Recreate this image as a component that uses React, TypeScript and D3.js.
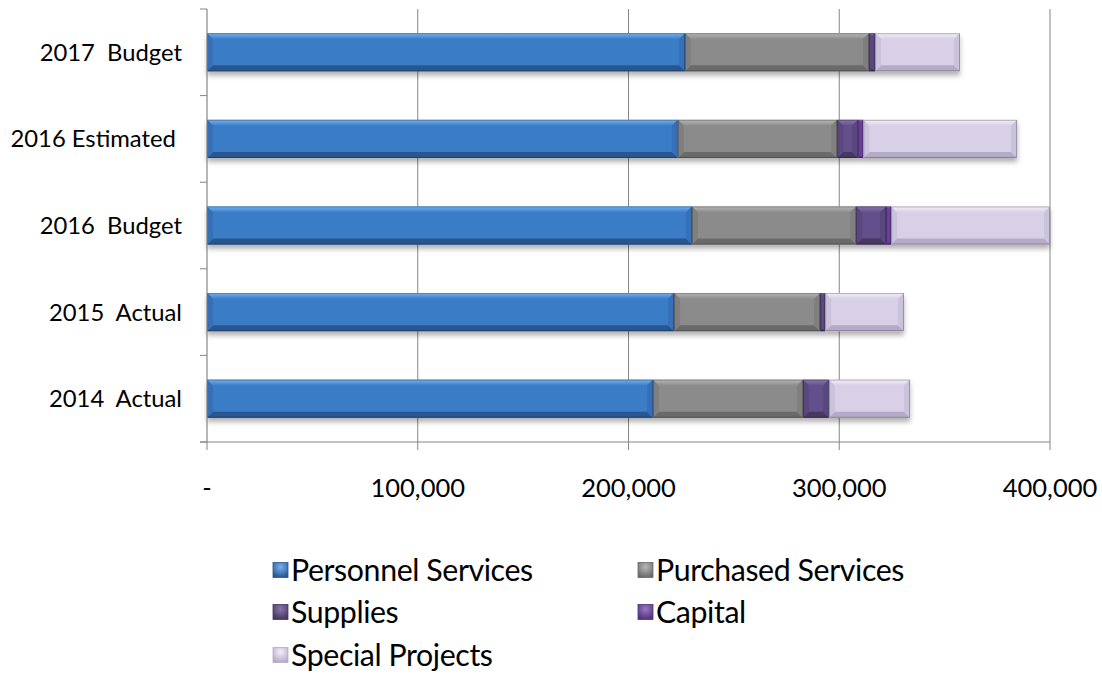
import React from "react";
import * as d3 from "d3";

const categories = ["2014  Actual", "2015  Actual", "2016  Budget", "2016 Estimated ", "2017  Budget"];
const seriesNames = ["Personnel Services", "Purchased Services", "Supplies", "Capital", "Special Projects"];
const personnel = [211600, 221600, 230100, 223400, 226800];
const purchased = [71200, 69300, 77900, 75600, 87300];
const supplies = [12300, 2400, 14200, 10000, 2900];
const capital = [0, 0, 2400, 2400, 0];
const special = [38500, 37400, 75400, 73000, 40300];
const xTicks = [0, 100000, 200000, 300000, 400000];

const W = 1102;
const H = 677;
const FONT = "Lato, 'Open Sans', sans-serif";

const palette = [
  { base: "#3b7cc7", top: "#74b2f2", bottom: "#2a5690", side: "#3570b8" },
  { base: "#8b8b8b", top: "#b8b8b8", bottom: "#6a6a6a", side: "#7f7f7f" },
  { base: "#644f8b", top: "#8a76ad", bottom: "#46375f", side: "#5a477e" },
  { base: "#7348a6", top: "#9a78c8", bottom: "#523378", side: "#683f98" },
  { base: "#d8d0e6", top: "#f3effa", bottom: "#b5abc8", side: "#cbc2dc" },
];

export default function App() {
  const rows = categories.map((c, i) => ({
    cat: c,
    s0: personnel[i],
    s1: purchased[i],
    s2: supplies[i],
    s3: capital[i],
    s4: special[i],
  }));
  const keys = ["s0", "s1", "s2", "s3", "s4"];
  const stacked = d3.stack<any>().keys(keys)(rows);

  const x = d3.scaleLinear().domain([0, 400000]).range([207, 1050]);
  const y = d3
    .scaleBand<string>()
    .domain([...categories].reverse())
    .range([9, 442])
    .paddingInner(0.56)
    .paddingOuter(0.28);

  const bandTop = 9;
  const bandBottom = 442;
  const boundaries = d3.range(categories.length + 1).map((i) => bandTop + ((bandBottom - bandTop) * i) / categories.length);
  const axisColor = "#868686";

  const segs: JSX.Element[] = [];
  stacked.forEach((layer, si) => {
    const col = palette[si];
    layer.forEach((d: any, ci: number) => {
      const v0 = d[0];
      const v1 = d[1];
      if (v1 - v0 <= 0) return;
      const x0 = x(v0);
      const x1 = x(v1);
      const y0 = y(d.data.cat)!;
      const y1 = y0 + y.bandwidth();
      const w = x1 - x0;
      const b = Math.min(6, w / 2);
      segs.push(
        <g key={`${si}-${ci}`}>
          <rect x={x0} y={y0} width={w} height={y1 - y0} fill={col.base} />
          <polygon points={`${x0},${y0} ${x1},${y0} ${x1 - b},${y0 + b} ${x0 + b},${y0 + b}`} fill={`url(#gt${si})`} />
          <polygon points={`${x0},${y1} ${x1},${y1} ${x1 - b},${y1 - b} ${x0 + b},${y1 - b}`} fill={col.bottom} />
          <polygon points={`${x0},${y0} ${x0 + b},${y0 + b} ${x0 + b},${y1 - b} ${x0},${y1}`} fill={col.side} />
          <polygon points={`${x1},${y0} ${x1 - b},${y0 + b} ${x1 - b},${y1 - b} ${x1},${y1}`} fill={col.side} />
          <rect x={x0 + 0.5} y={y0 + 0.5} width={Math.max(0, w - 1)} height={y1 - y0 - 1} fill="none" stroke="#000" strokeOpacity={0.25} strokeWidth={1} />
        </g>
      );
    });
  });

  const legendItems = [
    { name: seriesNames[0], si: 0, lx: 273, ly: 570 },
    { name: seriesNames[1], si: 1, lx: 638, ly: 570 },
    { name: seriesNames[2], si: 2, lx: 273, ly: 612 },
    { name: seriesNames[3], si: 3, lx: 638, ly: 612 },
    { name: seriesNames[4], si: 4, lx: 273, ly: 655 },
  ];

  return (
    <svg
      width={W}
      height={H}
      viewBox={`0 0 ${W} ${H}`}
      style={{ position: "absolute", left: 0, top: 0, display: "block", background: "#fff" }}
    >
      <defs>
        <filter id="shadow" x="-5%" y="-30%" width="110%" height="180%">
          <feDropShadow dx={0} dy={4} stdDeviation={2.5} floodColor="#000" floodOpacity={0.3} />
        </filter>
        {palette.map((c, i) => (
          <linearGradient key={i} id={`gt${i}`} x1="0" y1="0" x2="0" y2="1">
            <stop offset="0" stopColor={c.top} />
            <stop offset="1" stopColor={c.base} />
          </linearGradient>
        ))}
        {palette.map((c, i) => (
          <radialGradient key={`lg${i}`} id={`lg${i}`} cx="0.5" cy="0.3" r="0.7">
            <stop offset="0" stopColor={c.top} />
            <stop offset="1" stopColor={c.bottom} />
          </radialGradient>
        ))}
      </defs>

      {xTicks.slice(1).map((t) => (
        <line key={t} x1={x(t)} x2={x(t)} y1={bandTop} y2={bandBottom} stroke={axisColor} strokeWidth={1} />
      ))}

      <g filter="url(#shadow)">{segs}</g>

      <line x1={207} x2={207} y1={bandTop} y2={bandBottom} stroke={axisColor} strokeWidth={1.2} />
      {boundaries.map((b, i) => (
        <line key={i} x1={200} x2={207} y1={b} y2={b} stroke={axisColor} strokeWidth={1} />
      ))}
      <line x1={200} x2={1050} y1={bandBottom} y2={bandBottom} stroke={axisColor} strokeWidth={1.2} />
      {xTicks.map((t) => (
        <line key={t} x1={x(t)} x2={x(t)} y1={bandBottom} y2={bandBottom + 8} stroke={axisColor} strokeWidth={1} />
      ))}

      {categories.map((c) => (
        <text
          key={c}
          x={182}
          y={y(c)! + y.bandwidth() / 2}
          dy="0.36em"
          textAnchor="end"
          fontFamily={FONT}
          fontSize={23.8}
          fill="#000"
          style={{ whiteSpace: "pre" }}
        >
          {c}
        </text>
      ))}

      {xTicks.map((t) => (
        <text key={t} x={x(t)} y={488} dy="0.36em" textAnchor="middle" fontFamily={FONT} fontSize={25.5} fill="#000">
          {t === 0 ? "-" : d3.format(",")(t)}
        </text>
      ))}

      {legendItems.map((l) => (
        <g key={l.name}>
          <rect x={l.lx} y={l.ly - 7.5} width={15} height={15} fill={`url(#lg${l.si})`} stroke={palette[l.si].bottom} strokeWidth={0.8} />
          <text x={l.lx + 18} y={l.ly} dy="0.36em" fontFamily={FONT} fontSize={30.3} fill="#000" letterSpacing={-0.4}>
            {l.name}
          </text>
        </g>
      ))}
    </svg>
  );
}
